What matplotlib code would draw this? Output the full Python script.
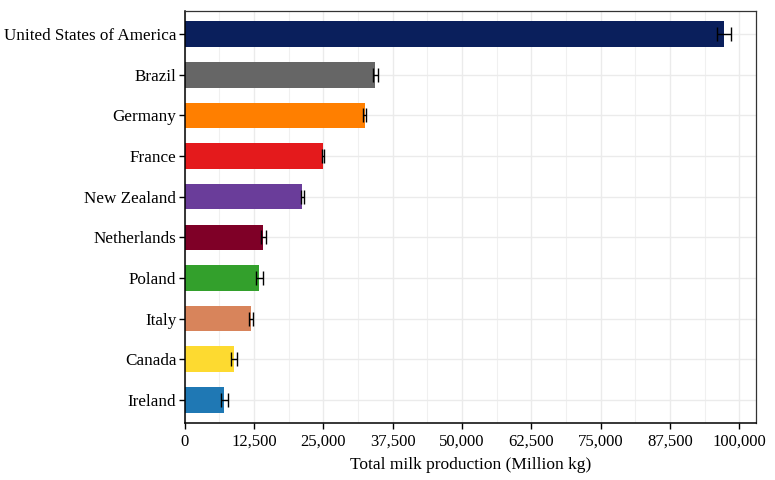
import matplotlib.pyplot as plt
from matplotlib.ticker import MultipleLocator, FuncFormatter

countries = ['United States of America', 'Brazil', 'Germany', 'France', 'New Zealand',
             'Netherlands', 'Poland', 'Italy', 'Canada', 'Ireland']
production = [97300, 34400, 32500, 24900, 21200, 14200, 13450, 11900, 8950, 7150]
errors = [1250, 380, 270, 200, 280, 450, 600, 350, 550, 600]
colors = ['#0A1F5C', '#666666', '#FF7F00', '#E41A1C', '#6A3D9A',
          '#7F0027', '#33A02C', '#D8845B', '#FDDA30', '#1F78B4']

plt.rcParams['font.family'] = ['Liberation Serif', 'DejaVu Serif']

fig = plt.figure(figsize=(7.75, 4.8), dpi=100)
ax = fig.add_axes([0.2383, 0.1181, 0.7372, 0.8596])

ypos = list(range(len(countries)))
ax.barh(ypos, production, height=0.63, color=colors, zorder=2)
ax.errorbar(production, ypos, xerr=errors, fmt='none', ecolor='black',
            elinewidth=1.0, capsize=5, capthick=1.0, zorder=3)

ax.set_yticks(ypos)
ax.set_yticklabels(countries, fontsize=12.3)
ax.set_ylim(len(countries) - 1 + 0.58, -0.58)
ax.set_xlim(0, 103000)

ax.xaxis.set_major_locator(MultipleLocator(12500))
ax.xaxis.set_minor_locator(MultipleLocator(6250))
ax.xaxis.set_major_formatter(FuncFormatter(lambda v, p: f'{int(v):,}'))
ax.tick_params(axis='x', labelsize=12, length=4, width=1, color='black')
ax.tick_params(axis='x', which='minor', length=0)
ax.tick_params(axis='y', length=4, width=1, color='black', pad=2)

ax.grid(True, which='major', color='#EBEBEB', linewidth=1.0, zorder=0)
ax.grid(True, which='minor', axis='x', color='#F0F0F0', linewidth=0.8, zorder=0)
ax.set_axisbelow(True)

for side in ['top', 'right']:
    ax.spines[side].set_color('#333333')
    ax.spines[side].set_linewidth(0.9)
for side in ['left', 'bottom']:
    ax.spines[side].set_color('black')
    ax.spines[side].set_linewidth(1.1)

ax.set_xlabel('Total milk production (Million kg)', fontsize=12.5, labelpad=5)

fig.savefig('out.png', dpi=100)
